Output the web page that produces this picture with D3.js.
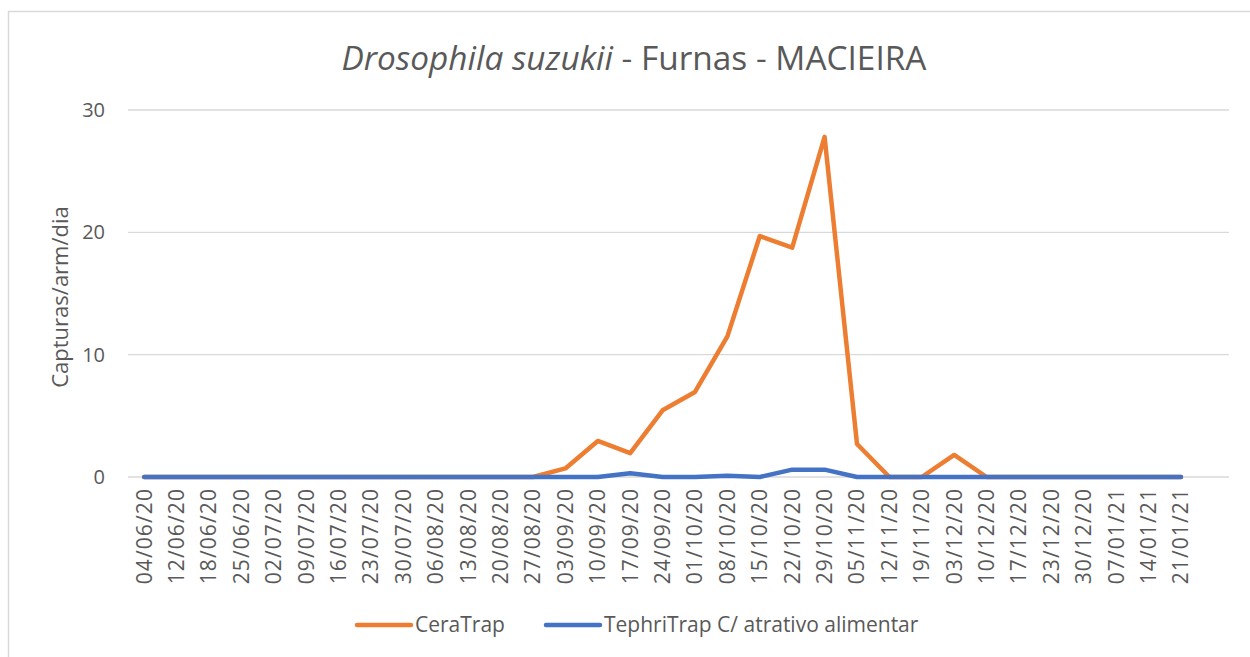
<!DOCTYPE html>
<html>
<head>
<meta charset="utf-8">
<script src="https://cdn.jsdelivr.net/npm/d3@7"></script>
<style>
  body { margin: 0; background: #fff; }
  svg { font-family: "Open Sans", sans-serif; }
</style>
</head>
<body>
<div id="chart"></div>
<script>
const dates = ["04/06/20", "12/06/20", "18/06/20", "25/06/20", "02/07/20", "09/07/20", "16/07/20",
  "23/07/20", "30/07/20", "06/08/20", "13/08/20", "20/08/20", "27/08/20", "03/09/20", "10/09/20",
  "17/09/20", "24/09/20", "01/10/20", "08/10/20", "15/10/20", "22/10/20", "29/10/20", "05/11/20",
  "12/11/20", "19/11/20", "03/12/20", "10/12/20", "17/12/20", "23/12/20", "30/12/20", "07/01/21",
  "14/01/21", "21/01/21"];
const ceraTrap = [0, 0, 0, 0, 0, 0, 0, 0, 0, 0, 0, 0, 0, 0.7, 2.95, 1.95, 5.45, 6.95, 11.5,
  19.7, 18.75, 27.8, 2.7, 0, 0, 1.8, 0, 0, 0, 0, 0, 0, 0];
const tephriTrap = [0, 0, 0, 0, 0, 0, 0, 0, 0, 0, 0, 0, 0, 0, 0, 0.3, 0, 0, 0.1,
  0, 0.6, 0.6, 0, 0, 0, 0, 0, 0, 0, 0, 0, 0, 0];
const yTicks = [0, 10, 20, 30];

const width = 1250, height = 657;
const plotLeft = 128, plotRight = 1229, plotTop = 110, plotBottom = 477;
const step = 32.4;

const svg = d3.select("#chart").append("svg")
  .attr("width", width)
  .attr("height", height);

// chart border
svg.append("rect")
  .attr("x", 8.5).attr("y", 11.5)
  .attr("width", 1300).attr("height", 700)
  .attr("fill", "none")
  .attr("stroke", "#d9d9d9")
  .attr("stroke-width", 1.5);

const x = d3.scalePoint()
  .domain(dates)
  .range([plotLeft + step / 2, plotLeft + step / 2 + step * (dates.length - 1)]);

const y = d3.scaleLinear().domain([0, 30]).range([plotBottom, plotTop]);

// gridlines
svg.append("g")
  .selectAll("line")
  .data(yTicks)
  .enter()
  .append("line")
  .attr("x1", plotLeft).attr("x2", plotRight)
  .attr("y1", (d) => y(d)).attr("y2", (d) => y(d))
  .attr("stroke", "#d9d9d9")
  .attr("stroke-width", 1.3);

// y axis labels
svg.append("g")
  .selectAll("text")
  .data(yTicks)
  .enter()
  .append("text")
  .attr("x", 105)
  .attr("y", (d) => y(d))
  .attr("dy", "0.35em")
  .attr("text-anchor", "end")
  .style("font-size", "20px")
  .style("fill", "#595959")
  .text((d) => d);

// x axis labels
svg.append("g")
  .selectAll("text")
  .data(dates)
  .enter()
  .append("text")
  .attr("transform", (d) => `translate(${x(d)}, 488) rotate(-90)`)
  .attr("dy", "0.35em")
  .attr("text-anchor", "end")
  .style("font-size", "21px")
  .style("letter-spacing", "1.1px")
  .style("fill", "#595959")
  .text((d) => d);

const line = d3.line()
  .x((d, i) => x(dates[i]))
  .y((d) => y(d));

svg.append("path")
  .datum(ceraTrap)
  .attr("d", line)
  .attr("fill", "none")
  .attr("stroke", "#ED7D31")
  .attr("stroke-width", 4.5)
  .attr("stroke-linejoin", "round")
  .attr("stroke-linecap", "round");

svg.append("path")
  .datum(tephriTrap)
  .attr("d", line)
  .attr("fill", "none")
  .attr("stroke", "#4472C4")
  .attr("stroke-width", 4.5)
  .attr("stroke-linejoin", "round")
  .attr("stroke-linecap", "round");

// title
const title = svg.append("text")
  .attr("x", 634)
  .attr("y", 70)
  .attr("text-anchor", "middle")
  .style("font-size", "33.4px")
  .style("fill", "#595959");
title.append("tspan").style("font-style", "italic").text("Drosophila suzukii");
title.append("tspan").text(" - Furnas - MACIEIRA");

// y axis title
svg.append("text")
  .attr("transform", "translate(60, 297) rotate(-90)")
  .attr("dy", "0.35em")
  .attr("text-anchor", "middle")
  .style("font-size", "22px")
  .style("fill", "#595959")
  .text("Capturas/arm/dia");

// legend
const legend = [
  { name: "CeraTrap", color: "#ED7D31", x: 357 },
  { name: "TephriTrap C/ atrativo alimentar", color: "#4472C4", x: 546 }
];
const lg = svg.append("g")
  .selectAll("g")
  .data(legend)
  .enter()
  .append("g")
  .attr("transform", (d) => `translate(${d.x}, 625)`);
lg.append("line")
  .attr("x1", 0).attr("x2", 54)
  .attr("stroke", (d) => d.color)
  .attr("stroke-width", 4.5)
  .attr("stroke-linecap", "round");
lg.append("text")
  .attr("x", 58)
  .attr("dy", "0.35em")
  .style("font-size", "21px")
  .style("fill", "#595959")
  .text((d) => d.name);
</script>
</body>
</html>
